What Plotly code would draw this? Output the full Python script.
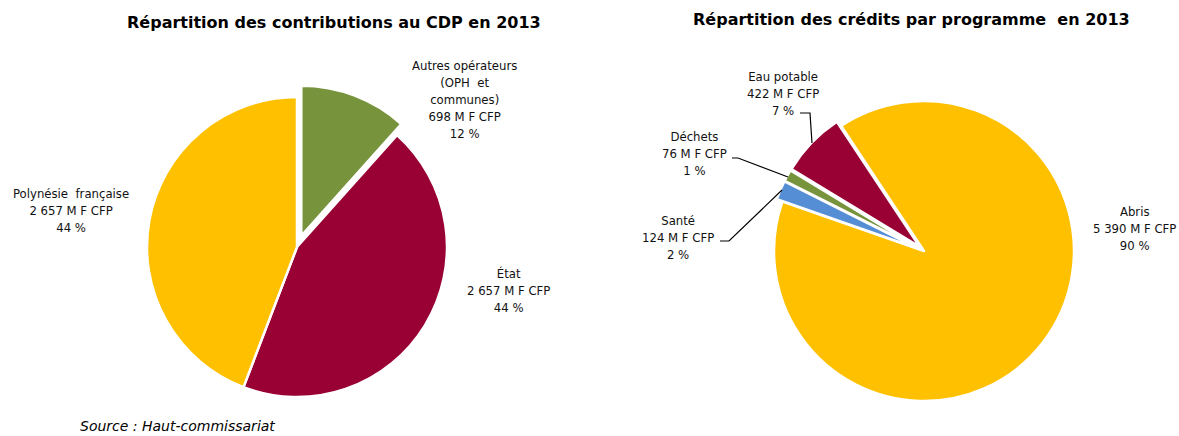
import plotly.graph_objects as go

# ---- Data: left chart (contributions au CDP 2013) ----
contrib_labels = ["Autres opérateurs<br>(OPH  et<br>communes)", "État", "Polynésie  française"]
contrib_values = [698, 2657, 2657]
contrib_colors = ["#77933C", "#990033", "#FFC000"]
contrib_pull = [0.08, 0.0, 0.0]

# ---- Data: right chart (crédits par programme 2013) ----
credit_labels = ["Abris", "Santé", "Déchets", "Eau potable"]
credit_values = [5390, 124, 76, 422]
credit_colors = ["#FFC000", "#558ED5", "#77933C", "#990033"]
credit_pull = [0.0, 0.04, 0.04, 0.04]

titles = ["Répartition des contributions au CDP en 2013",
          "Répartition des crédits par programme  en 2013"]
source_text = "Source : Haut-commissariat"

W, H = 1179, 436
LABEL_FONT = dict(family="DejaVu Sans Condensed, Liberation Sans Narrow, DejaVu Sans, sans-serif",
                  size=13, color="#111111")
TITLE_FONT = dict(family="DejaVu Sans, Verdana, sans-serif", size=16, color="#000000")


def px(x):
    return x / W


def py(y):
    return 1 - y / H


def fmt(v):
    return f"{v:,}".replace(",", " ")


def label_text(lab, v, total):
    return f"{lab}<br>{fmt(v)} M F CFP<br>{round(100 * v / total)} %"


def domain(cx, cy, r, pull):
    half = r * (1 + max(pull))
    return dict(x=[px(cx - half), px(cx + half)], y=[py(cy + half), py(cy - half)])


fig = go.Figure()

fig.add_trace(go.Pie(
    labels=contrib_labels, values=contrib_values, sort=False, direction="clockwise",
    rotation=0, pull=contrib_pull, textinfo="none", hoverinfo="label+value+percent",
    marker=dict(colors=contrib_colors, line=dict(color="white", width=2.5)),
    domain=domain(297, 247, 150, contrib_pull), showlegend=False,
))

fig.add_trace(go.Pie(
    labels=credit_labels, values=credit_values, sort=False, direction="clockwise",
    rotation=-33.5, pull=credit_pull, textinfo="none", hoverinfo="label+value+percent",
    marker=dict(colors=credit_colors, line=dict(color="white", width=2.5)),
    domain=domain(924, 251, 150, credit_pull), showlegend=False,
))

annotations = []
# Titles
annotations.append(dict(x=px(334), y=py(23), text=f"<b>{titles[0]}</b>", showarrow=False,
                        xanchor="center", yanchor="middle", font=TITLE_FONT))
annotations.append(dict(x=px(911), y=py(20), text=f"<b>{titles[1]}</b>", showarrow=False,
                        xanchor="center", yanchor="middle", font=TITLE_FONT))

# Slice labels (positions are layout choices)
c_total = sum(contrib_values)
c_pos = [(464, 99), (508, 290), (71, 210)]
for lab, v, (x, y) in zip(contrib_labels, contrib_values, c_pos):
    annotations.append(dict(x=px(x), y=py(y), text=label_text(lab, v, c_total), showarrow=False,
                            xanchor="center", yanchor="middle", align="center", font=LABEL_FONT))

r_total = sum(credit_values)
r_pos = [(1134, 228), (678, 237), (694, 153), (783, 93)]
for lab, v, (x, y) in zip(credit_labels, credit_values, r_pos):
    annotations.append(dict(x=px(x), y=py(y), text=label_text(lab, v, r_total), showarrow=False,
                            xanchor="center", yanchor="middle", align="center", font=LABEL_FONT))

# Source
annotations.append(dict(x=px(78), y=0, text=f"<i>{source_text}</i>", showarrow=False,
                        xanchor="left", yanchor="bottom",
                        font=dict(family="DejaVu Sans, Verdana, sans-serif", size=14, color="#000")))

# Leader lines for the small slices on the right
leader_paths = [
    [(800, 113), (810, 113), (812, 143)],   # Eau potable
    [(732, 158), (738, 158), (788, 177)],   # Déchets
    [(720, 241), (729, 241), (782, 190)],   # Santé
]
shapes = []
for pts in leader_paths:
    d = "M " + " L ".join(f"{px(x)},{py(y)}" for x, y in pts)
    shapes.append(dict(type="path", path=d, xref="paper", yref="paper",
                       line=dict(color="#000000", width=1.2)))

fig.update_layout(
    width=W, height=H, margin=dict(l=0, r=0, t=0, b=0),
    paper_bgcolor="white", plot_bgcolor="white",
    annotations=annotations, shapes=shapes,
)

fig.write_html("out.html", config={"displayModeBar": False},
               post_script="document.body.style.margin='0';document.body.style.overflow='hidden';")
